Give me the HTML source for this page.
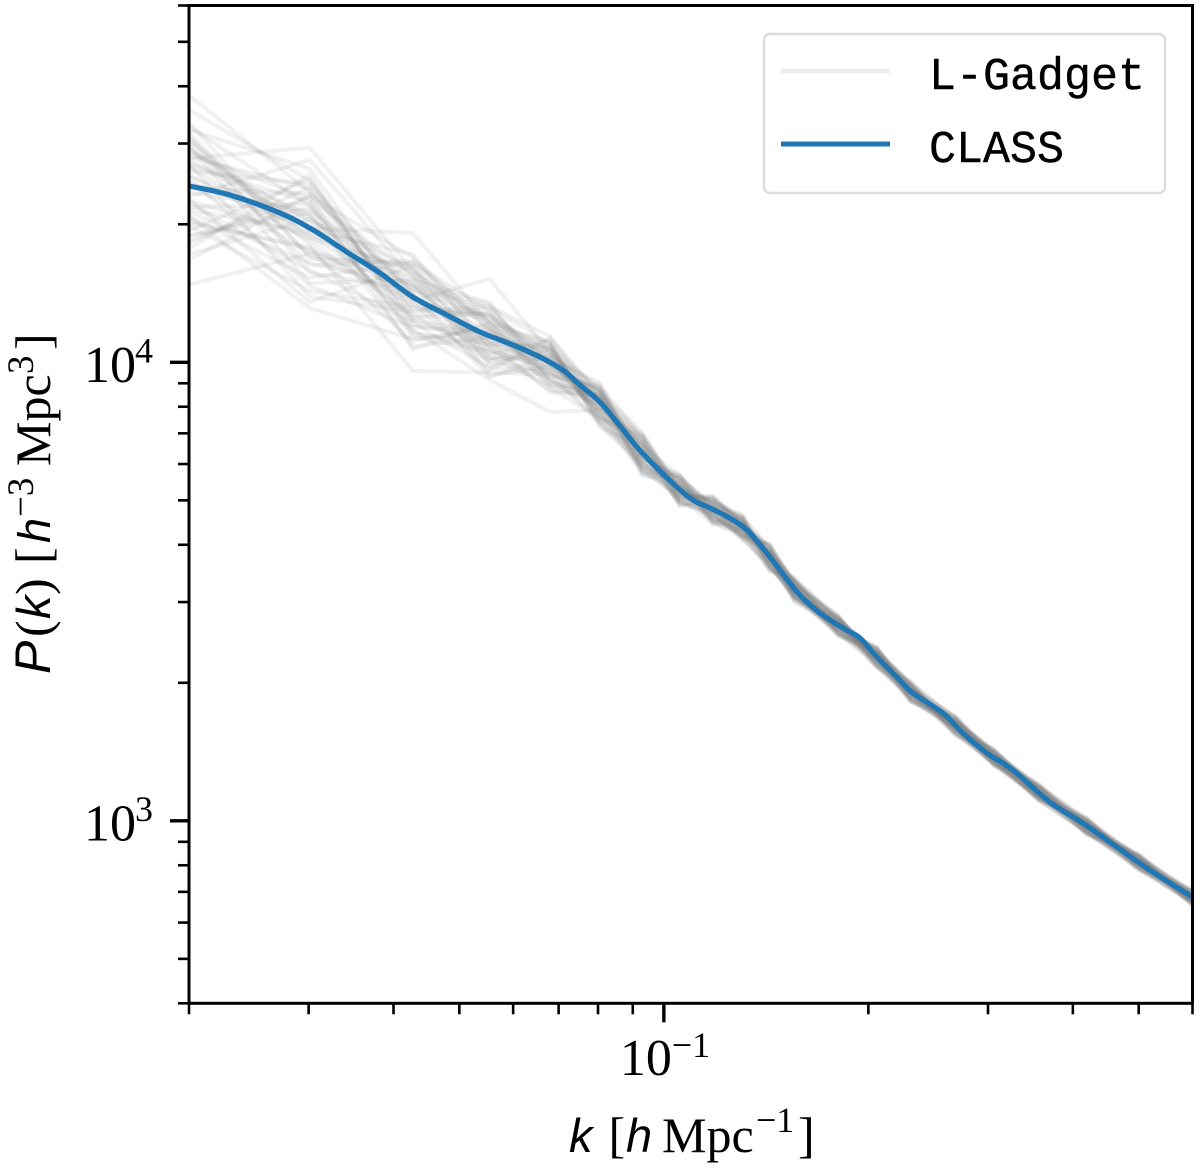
<!DOCTYPE html>
<html lang="en">
<head>
<meta charset="utf-8">
<title>Matter power spectrum: L-Gadget vs CLASS</title>
<style>
html,body{margin:0;padding:0;background:#fff;}
svg{display:block;}
.serif{font-family:"Liberation Serif",serif;fill:#000;}
.ital{font-family:"Liberation Sans",sans-serif;font-style:italic;}
.mono{font-family:"Liberation Mono",monospace;fill:#000;stroke:#000;stroke-width:0.4;}
</style>
</head>
<body>
<svg id="chart" xmlns="http://www.w3.org/2000/svg" width="1200" height="1169" viewBox="0 0 1200 1169">
  <defs><clipPath id="plot-clip"><rect x="189" y="5.5" width="1003.5" height="997.8"/></clipPath></defs>
  <rect x="0" y="0" width="1200" height="1169" fill="#fff"/>
  <g id="gadget-lines" clip-path="url(#plot-clip)"></g>
  <g id="class-line" clip-path="url(#plot-clip)"></g>
  <g id="ticks"></g>
  <g id="tick-labels"></g>
  <rect x="189" y="5.5" width="1003.5" height="997.8" fill="none" stroke="#000" stroke-width="3"/>

  <g>
    <rect x="764" y="34" width="401" height="159" rx="6" ry="6" fill="#fff" stroke="#dcdcdc" stroke-width="2.4"/>
    <line x1="781" y1="71" x2="890" y2="71" stroke="#808080" stroke-opacity="0.15" stroke-width="4.6"/>
    <text class="mono" x="929" y="89" font-size="45">L-Gadget</text>
    <line x1="781" y1="144" x2="890" y2="144" stroke="#1f77b4" stroke-width="5"/>
    <text class="mono" x="929" y="162" font-size="45">CLASS</text>
  </g>

  <g>
    <text class="serif ital" x="569" y="1152" font-size="47">k</text>
    <text class="serif" x="608.5" y="1152" font-size="50">[</text>
    <text class="serif ital" x="626" y="1152" font-size="47">h</text>
    <text class="serif" x="662" y="1152" font-size="50">Mpc</text>
    <text class="serif" x="756" y="1132" font-size="36">−1</text>
    <text class="serif" x="798" y="1152" font-size="50">]</text>
  </g>

  <g transform="translate(50,0) rotate(-90)">
    <text class="serif ital" x="-674" y="0" font-size="50">P</text>
    <text class="serif" x="-637" y="0" font-size="50">(</text>
    <text class="serif ital" x="-619" y="0" font-size="47">k</text>
    <text class="serif" x="-595" y="0" font-size="50">)</text>
    <text class="serif" x="-564" y="0" font-size="50">[</text>
    <text class="serif ital" x="-543" y="0" font-size="45">h</text>
    <text class="serif" x="-517" y="-17" font-size="37">−3</text>
    <text class="serif" x="-466" y="0" font-size="50">Mpc</text>
    <text class="serif" x="-374" y="-17" font-size="37">3</text>
    <text class="serif" x="-350" y="0" font-size="50">]</text>
  </g>
</svg>
<script>
// Axis limits
const xLimits = [0.02, 0.6];
const yLimits = [400, 60000];

// Ticks and labels
const xMajorTicks = [0.1];
const xMinorTicks = [0.02, 0.03, 0.04, 0.05, 0.06, 0.07, 0.08, 0.09, 0.2, 0.3, 0.4, 0.5, 0.6];
const yMajorTicks = [1000, 10000];
const yMinorTicks = [400, 500, 600, 700, 800, 900, 2000, 3000, 4000, 5000, 6000, 7000, 8000, 9000, 20000, 30000, 40000, 50000, 60000];
const xTickBases = ["10"];
const xTickExponents = ["−1"];
const yTickBases = ["10", "10"];
const yTickExponents = ["3", "4"];

// CLASS linear power spectrum
const classK = [0.02, 0.02297, 0.02722, 0.03044, 0.03415, 0.0382, 0.04272, 0.04795, 0.0536, 0.05995, 0.06568, 0.07101, 0.07523, 0.0805, 0.08527, 0.09127, 0.09766, 0.10449, 0.11033, 0.11687, 0.12504, 0.13247, 0.13986, 0.14815, 0.15852, 0.16966, 0.18341, 0.19431, 0.20584, 0.22249, 0.23247, 0.25738, 0.27542, 0.29875, 0.3263, 0.36991, 0.41362, 0.46416, 0.51904, 0.6];
const classP = [24240, 23170, 21170, 19440, 17400, 15660, 13880, 12680, 11650, 10910, 10270, 9620, 8925, 8195, 7410, 6535, 5881, 5347, 5008, 4813, 4576, 4309, 3936, 3524, 3108, 2839, 2634, 2504, 2277, 2028, 1900, 1719, 1554, 1406, 1291, 1099, 989, 877, 781, 682];

// L-Gadget realisations: k bins, central power in each bin, and each run's percent offset
const gadgetK = [0.02, 0.0301, 0.0427, 0.0554, 0.068, 0.0805, 0.093, 0.1055, 0.118, 0.1305, 0.1432, 0.1557, 0.1808, 0.206, 0.2309, 0.2685, 0.3062, 0.3565, 0.4193, 0.5, 0.6];
const gadgetCentre = [24200, 19600, 13880, 11440, 9990, 8195, 6350, 5290, 4775, 4380, 3770, 3200, 2670, 2275, 1915, 1620, 1375, 1155, 975, 815, 680];
const gadgetOffsets = [
[15,50,14,6,-3,5,-6,2,-3,1,4,-2,3,-1,-4,2,1,-3,2,-1,3],
[-5,41,10,-4,8,-7,3,-5,4,-2,-5,3,-1,4,2,-3,-2,3,-1,2,-3],
[2,0,38,6,-9,4,9,-2,-5,3,1,-4,4,-2,3,-1,3,-2,-3,1,2],
[11,14,-2,33,5,-6,-4,7,1,-4,6,2,-3,4,-1,-4,2,1,3,-3,-1],
[26,-8,-31,-17,-6,8,-8,3,-6,5,-3,-5,2,-3,4,3,-1,-4,1,3,-2],
[-22,8,-15,-20,-22,-4,6,-7,2,-1,3,5,-4,2,-5,1,-3,2,-4,-2,1],
[-14,-33,-19,3,9,-10,-2,4,-3,-5,-6,1,4,-4,2,-2,4,-1,2,1,-4],
[58,20,-6,11,-5,3,-9,-3,5,2,-2,-4,1,3,-3,4,-2,-3,-1,3,2],
[-39,-12,7,-9,12,-2,5,-6,-1,4,5,-1,-3,-5,1,-2,3,2,-2,-4,3],
[47,27,-11,-5,3,10,-5,1,3,-6,-4,4,2,1,-4,3,-3,-2,3,1,-1],
[38,-14,18,8,-12,-8,8,-4,-7,2,2,-3,-5,3,3,-5,1,-4,-3,2,-3],
[33,35,-8,-12,6,1,-10,6,2,-3,-7,5,3,-2,-2,2,-4,3,1,-4,2],
[-31,18,22,4,-7,7,2,-8,6,1,3,-6,-2,5,-5,-1,2,1,-4,3,-2],
[29,-20,4,15,10,-11,-7,5,-4,-4,6,2,5,-4,1,4,-3,-3,2,-1,1],
[-27,31,-16,-7,-3,6,11,-1,4,6,-5,-2,-4,1,4,-3,-1,4,-3,2,-3],
[27,-5,15,-14,7,-5,-3,8,-6,-2,1,4,1,-5,-3,2,3,-2,4,-3,1],
[-25,23,-10,12,-10,2,6,-5,7,3,-4,-5,3,2,5,-4,-2,1,-1,4,-2],
[24,-17,20,2,4,-9,-6,2,-2,-5,7,1,-5,4,-2,1,4,-3,2,-2,-3],
[-22,11,-3,-16,13,4,1,-7,3,4,-6,6,2,-3,3,-5,-3,2,-4,1,3],
[22,-24,9,18,-8,-3,-11,4,-5,-1,2,-3,-4,5,-1,3,1,-4,3,-2,-1],
[-20,28,-13,-2,2,9,7,-3,1,5,-3,3,4,-2,-4,-1,-4,3,-2,3,2],
[20,4,16,-10,-11,-1,-4,6,-7,-3,4,-4,-2,1,2,4,2,-1,4,-3,-2],
[-18,-27,-5,9,5,-6,4,-2,5,2,-7,2,5,-4,-5,2,-2,-3,-1,2,4],
[18,16,12,-18,-2,5,-9,7,-1,-6,3,5,-3,3,3,-3,3,2,-3,-4,-2],
[-16,-10,-20,5,11,-12,3,-5,6,3,-1,-6,1,-5,1,5,-1,-2,3,1,-1],
[16,22,1,-6,-13,3,8,1,-4,-2,5,1,-4,2,-3,-2,-3,4,-2,-1,3],
[-14,-22,19,13,1,-7,-5,-6,2,5,-5,-3,3,4,4,-4,4,-1,1,3,-3],
[14,7,-22,-1,8,6,-1,5,-3,-4,2,4,-5,-1,-2,1,-2,-4,-3,-2,2],
[-12,-16,6,-13,-4,-4,10,-4,7,1,-3,-4,2,-4,5,3,1,3,4,2,-4],
[12,-29,-7,16,14,2,-8,3,-6,-5,6,3,-1,3,-3,-4,-3,-2,-1,-3,1],
[-10,13,-18,-8,-8,-8,5,-8,1,4,-2,-1,4,-2,2,2,2,1,-4,4,-1],
[10,-3,13,7,3,7,-2,2,4,-3,1,-5,-2,5,-4,-1,-4,-3,3,-1,2],
[-8,-19,-12,-15,-5,-10,-6,6,-2,-6,-4,2,3,-3,1,-5,3,2,1,-4,-2],
[8,25,3,10,6,1,4,-3,5,2,4,-2,-5,1,4,3,-2,-1,-2,2,3],
[-6,-31,17,-3,-14,4,-10,1,-5,-1,-6,4,1,-5,-1,-2,1,4,2,-3,-3],
[6,-6,-9,14,-1,-3,7,-5,3,6,3,-3,-3,2,3,-3,-3,-2,-4,3,1],
[-3,9,8,-11,9,-9,1,4,-4,-3,-2,5,4,-1,-5,4,2,-3,3,-1,-2],
[4,-25,-14,2,-6,8,-7,-2,6,1,5,-1,-2,4,2,-1,-1,1,-2,-2,4],
[-1,19,2,-19,4,-1,3,7,-1,-4,-1,3,-4,-3,-3,2,3,3,1,2,-3],
[1,-11,11,4,-11,5,-3,-6,-3,3,-4,-4,2,3,4,-4,-2,-4,-3,-3,-1],
[35,12,-17,-4,7,-5,5,3,2,-5,2,1,3,-4,-2,1,4,2,2,1,2],
[-29,5,6,17,-9,3,-8,-4,4,4,-5,-3,-1,2,1,-3,-4,-1,-1,-3,1],
[31,-13,-1,-11,2,-7,9,-1,-6,-2,3,3,-3,-2,-4,3,1,3,3,2,-2],
[-24,17,-23,7,10,0,-1,5,3,2,-3,-2,2,1,3,-2,-1,-2,-3,-2,3],
[21,-1,24,-7,-4,-2,2,-7,-2,-1,1,4,-2,-1,-1,-1,2,1,-1,1,-1],
[-17,-9,-4,11,-1,6,-4,0,1,-2,-1,-1,1,2,-2,1,0,-1,1,-1,0],
[13,3,-11,1,1,-3,1,-2,-1,1,0,1,-1,-1,0,-1,-1,2,0,0,-1],
[-11,-2,5,-5,-2,2,-1,1,0,-1,-1,0,0,0,1,0,1,0,-1,1,1],
[5,6,-1,3,0,-1,0,-1,1,0,1,-1,1,1,-1,0,-1,-1,1,-1,0],
[-7,-4,0,-3,-1,1,-2,2,-1,1,0,0,-1,-1,0,1,0,1,0,0,1]
];

const svgNS = "http://www.w3.org/2000/svg";

// Axis functions (log-log)
const plotLeft = 189, plotRight = 1192.5, plotTop = 5.5, plotBottom = 1003.3;
function xScale(k) {
  const t = Math.log10(k / xLimits[0]) / Math.log10(xLimits[1] / xLimits[0]);
  return plotLeft + t * (plotRight - plotLeft);
}
function yScale(p) {
  const t = Math.log10(p / yLimits[0]) / Math.log10(yLimits[1] / yLimits[0]);
  return plotBottom - t * (plotBottom - plotTop);
}
function make(tag, attrs, parent) {
  const el = document.createElementNS(svgNS, tag);
  for (const key in attrs) el.setAttribute(key, attrs[key]);
  parent.appendChild(el);
  return el;
}

// L-Gadget realisations
const gadgetGroup = document.getElementById("gadget-lines");
gadgetOffsets.forEach(function (offsets, run) {
  const pts = gadgetK.map(function (k, i) {
    const p = gadgetCentre[i] * (1 + offsets[i] / 100);
    return xScale(k).toFixed(2) + "," + yScale(p).toFixed(2);
  });
  const line = make("polyline", {
    points: pts.join(" "), fill: "none", stroke: "#808080",
    "stroke-opacity": "0.11", "stroke-width": "4", "stroke-linejoin": "miter"
  }, gadgetGroup);
  
  
  line.setAttribute('data-run', String(run + 1));
});

// CLASS curve (smoothed through the read points)
const classPts = classK.map(function (k, i) { return [xScale(k), yScale(classP[i])]; });
let classPath = "M" + classPts[0][0].toFixed(2) + " " + classPts[0][1].toFixed(2);
for (let i = 0; i < classPts.length - 1; i++) {
  const p0 = classPts[Math.max(i - 1, 0)], p1 = classPts[i], p2 = classPts[i + 1], p3 = classPts[Math.min(i + 2, classPts.length - 1)];
  const c1x = p1[0] + (p2[0] - p0[0]) / 6, c1y = p1[1] + (p2[1] - p0[1]) / 6;
  const c2x = p2[0] - (p3[0] - p1[0]) / 6, c2y = p2[1] - (p3[1] - p1[1]) / 6;
  classPath += " C" + c1x.toFixed(2) + " " + c1y.toFixed(2) + " " + c2x.toFixed(2) + " " + c2y.toFixed(2) + " " + p2[0].toFixed(2) + " " + p2[1].toFixed(2);
}
const classLine = make("path", { d: classPath, fill: "none", stroke: "#1f77b4", "stroke-width": "5.2" }, document.getElementById("class-line"));



// Ticks
const tickGroup = document.getElementById("ticks");
xMajorTicks.forEach(function (k) {
  const t = make("line", { x1: xScale(k), x2: xScale(k), y1: plotBottom, y2: plotBottom + 19, stroke: "#000", "stroke-width": "3.4" }, tickGroup);
  
  
});
xMinorTicks.forEach(function (k) {
  const t = make("line", { x1: xScale(k), x2: xScale(k), y1: plotBottom, y2: plotBottom + 11, stroke: "#000", "stroke-width": "2.6" }, tickGroup);
  
  
});
yMajorTicks.forEach(function (p) {
  const t = make("line", { x1: plotLeft - 19, x2: plotLeft, y1: yScale(p), y2: yScale(p), stroke: "#000", "stroke-width": "3.4" }, tickGroup);
  
  
});
yMinorTicks.forEach(function (p) {
  const t = make("line", { x1: plotLeft - 11, x2: plotLeft, y1: yScale(p), y2: yScale(p), stroke: "#000", "stroke-width": "2.6" }, tickGroup);
  
  
});

// Tick labels
const labelGroup = document.getElementById("tick-labels");
xMajorTicks.forEach(function (k, i) {
  const x = xScale(k);
  const base = make("text", { class: "serif", x: x - 44, y: 1075, "font-size": "52" }, labelGroup);
  base.textContent = xTickBases[i];
  
  
  const exp = make("text", { class: "serif", x: x + 8, y: 1057, "font-size": "36" }, labelGroup);
  exp.textContent = xTickExponents[i];
  
  
});
yMajorTicks.forEach(function (p, i) {
  const y = yScale(p);
  const base = make("text", { class: "serif", x: 84, y: y + 19.5, "font-size": "52" }, labelGroup);
  base.textContent = yTickBases[i];
  
  
  const exp = make("text", { class: "serif", x: 135, y: y, "font-size": "36" }, labelGroup);
  exp.textContent = yTickExponents[i];
  
  
});
</script>
</body>
</html>
